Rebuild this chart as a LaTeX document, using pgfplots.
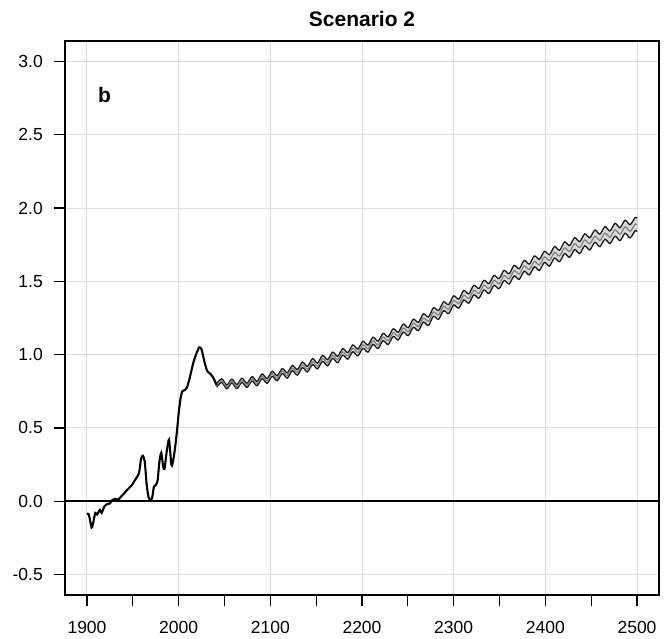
\documentclass[border=0pt]{standalone}
\usepackage{fontspec}
\setmainfont{Liberation Sans}
\usepackage{pgfplots}
\usepackage{pgfplotstable}
\pgfplotsset{compat=1.18}
\usepgfplotslibrary{fillbetween}

\pgfplotstableread{
x y
1900 -0.09
1902 -0.09
1905 -0.18
1907 -0.14
1909 -0.08
1911 -0.09
1914 -0.06
1916 -0.08
1919 -0.035
1922 -0.02
1925 -0.015
1928 0.01
1931 0.015
1934 0.01
1937 0.03
1940 0.05
1945 0.085
1949 0.11
1952 0.14
1955 0.17
1957 0.20
1959 0.29
1961 0.31
1963 0.27
1965 0.12
1967 0.03
1969 0.01
1971 0.02
1973 0.10
1975 0.11
1977 0.14
1979 0.27
1981 0.33
1983 0.24
1984.5 0.22
1987 0.34
1989.5 0.42
1992 0.25
1993.5 0.26
1996 0.36
1998 0.47
2000 0.60
2002 0.70
2004 0.75
2007 0.76
2009 0.775
2012 0.84
2016 0.945
2019.5 1.01
2022.5 1.05
2025 1.035
2028 0.955
2031 0.89
2034 0.872
2037 0.85
2039.5 0.82
2041.5 0.79
}\hist

\pgfplotstableread{
x lo mid hi
2041.5 0.778 0.790 0.802
2047.0 0.810 0.822 0.835
2052.5 0.767 0.780 0.793
2058.0 0.807 0.820 0.833
2063.5 0.768 0.782 0.796
2069.0 0.811 0.825 0.839
2074.5 0.776 0.790 0.805
2080.0 0.820 0.835 0.850
2085.5 0.788 0.803 0.818
2091.0 0.836 0.852 0.868
2096.5 0.804 0.820 0.836
2102.0 0.852 0.869 0.886
2107.5 0.822 0.839 0.856
2113.0 0.871 0.888 0.905
2118.5 0.840 0.858 0.876
2124.0 0.890 0.908 0.926
2129.5 0.860 0.879 0.898
2135.0 0.911 0.930 0.949
2140.5 0.882 0.901 0.920
2146.0 0.932 0.952 0.972
2151.5 0.903 0.923 0.943
2157.0 0.954 0.974 0.995
2162.5 0.924 0.945 0.966
2168.0 0.975 0.996 1.017
2173.5 0.945 0.967 0.989
2179.0 0.997 1.019 1.041
2184.5 0.969 0.991 1.014
2190.0 1.020 1.043 1.066
2195.5 0.992 1.015 1.038
2201.0 1.043 1.067 1.091
2206.5 1.017 1.041 1.065
2212.0 1.070 1.094 1.119
2217.5 1.042 1.067 1.092
2223.0 1.095 1.120 1.145
2228.5 1.069 1.095 1.121
2234.0 1.124 1.150 1.176
2239.5 1.100 1.126 1.153
2245.0 1.154 1.181 1.208
2250.5 1.130 1.157 1.184
2256.0 1.186 1.214 1.242
2261.5 1.164 1.192 1.220
2267.0 1.222 1.250 1.279
2272.5 1.199 1.228 1.257
2278.0 1.262 1.291 1.320
2283.5 1.241 1.271 1.301
2289.0 1.300 1.330 1.360
2294.5 1.280 1.310 1.341
2300.0 1.339 1.370 1.401
2305.5 1.317 1.348 1.379
2311.0 1.373 1.405 1.437
2316.5 1.351 1.383 1.415
2322.0 1.408 1.440 1.473
2327.5 1.385 1.418 1.451
2333.0 1.441 1.474 1.507
2338.5 1.417 1.451 1.485
2344.0 1.473 1.507 1.541
2349.5 1.450 1.484 1.519
2355.0 1.505 1.540 1.575
2360.5 1.482 1.517 1.552
2366.0 1.537 1.573 1.609
2371.5 1.514 1.550 1.586
2377.0 1.569 1.606 1.643
2382.5 1.544 1.581 1.618
2388.0 1.599 1.636 1.673
2393.5 1.574 1.612 1.650
2399.0 1.629 1.667 1.705
2404.5 1.604 1.643 1.682
2410.0 1.659 1.698 1.737
2415.5 1.634 1.673 1.712
2421.0 1.689 1.729 1.769
2426.5 1.664 1.704 1.744
2432.0 1.717 1.757 1.798
2437.5 1.689 1.730 1.771
2443.0 1.742 1.783 1.824
2448.5 1.714 1.756 1.798
2454.0 1.766 1.808 1.850
2459.5 1.737 1.779 1.822
2465.0 1.787 1.830 1.873
2470.5 1.758 1.801 1.844
2476.0 1.808 1.852 1.896
2481.5 1.778 1.822 1.866
2487.0 1.828 1.872 1.917
2492.5 1.797 1.842 1.887
2498.0 1.846 1.891 1.936
2500.0 1.840 1.885 1.930
}\band

\begin{document}
\begin{tikzpicture}
\begin{axis}[
  at={(0pt,0pt)}, anchor=south west,
  scale only axis, width=594pt, height=554pt,
  xmin=1876, xmax=2524, ymin=-0.64, ymax=3.14,
  xtick={1900,2000,2100,2200,2300,2400,2500},
  xticklabels={1900,2000,2100,2200,2300,2400,2500},
  minor xtick={1950,2050,2150,2250,2350,2450},
  ytick={-0.5,0,0.5,1,1.5,2,2.5,3},
  yticklabels={-0.5,0.0,0.5,1.0,1.5,2.0,2.5,3.0},
  xtick pos=bottom, ytick pos=left,
  tick align=outside,
  major tick length=11pt, minor tick length=11pt,
  tick style={black, line width=1.2pt},
  axis line style={black, line width=1.3pt},
  grid=major,
  major grid style={draw=black!13, line width=1pt},
  ticklabel style={font=\fontsize{17.5}{20}\selectfont, text=black},
  xticklabel style={anchor=center, yshift=-21.5pt, inner sep=0pt},
  yticklabel style={anchor=east, xshift=-11pt, inner sep=0pt},
  title={Scenario 2},
  title style={font=\fontsize{21}{24}\selectfont\bfseries, at={(0.5,1)}, anchor=center, yshift=16pt, inner sep=0pt},
  clip=true,
]
\addplot[black, line width=1.4pt] coordinates {(1876,0) (2524,0)};
\addplot[name path=up, draw=none, smooth, tension=0.5] table[x=x,y=hi]{\band};
\addplot[name path=dn, draw=none, smooth, tension=0.5] table[x=x,y=lo]{\band};
\addplot[fill=black!15, draw=none] fill between[of=up and dn];
\addplot[draw=black!90, line width=1.3pt, smooth, tension=0.5] table[x=x,y=hi]{\band};
\addplot[draw=black!90, line width=1.3pt, smooth, tension=0.5] table[x=x,y=lo]{\band};
\addplot[draw=black!50, line width=1.2pt, smooth, tension=0.5] table[x=x,y=mid]{\band};
\addplot[black, line width=2.1pt, smooth, tension=0.4] table[x=x,y=y]{\hist};
\node[font=\fontsize{21}{24}\selectfont\bfseries, inner sep=0pt] at (axis cs:1919,2.77) {b};
\end{axis}
\pgfresetboundingbox
\path[use as bounding box] (-65pt,-44pt) rectangle (605pt,595pt);
\end{tikzpicture}
\end{document}
